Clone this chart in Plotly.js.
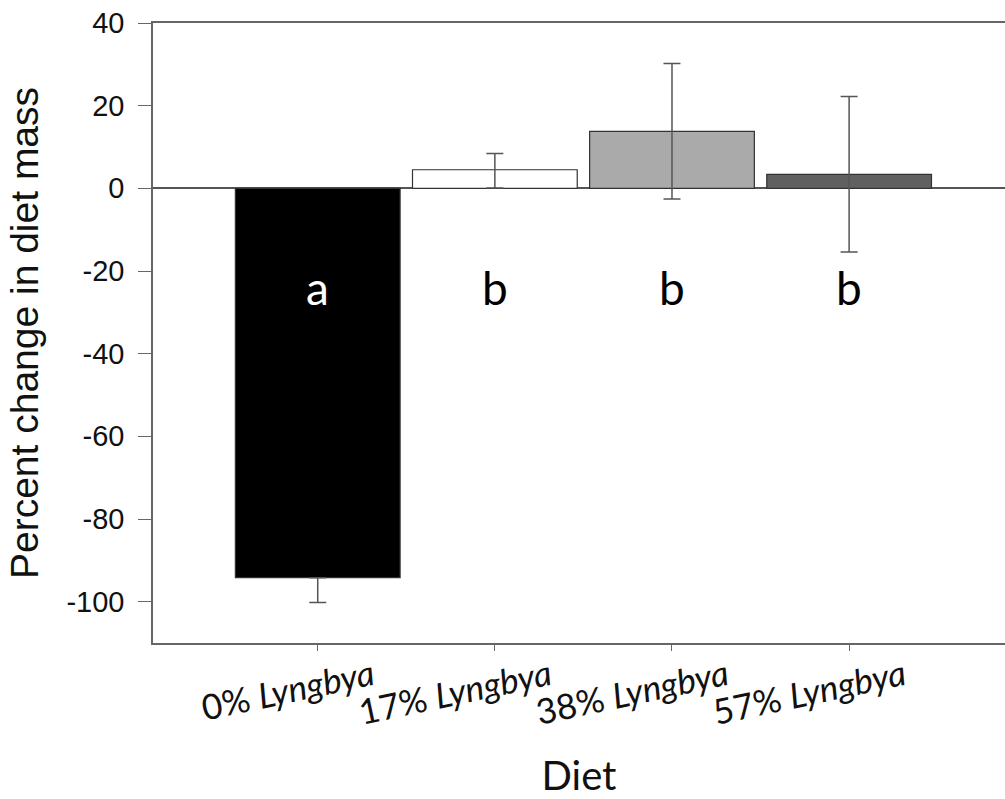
<!DOCTYPE html>
<html>
<head>
<meta charset="utf-8">
<script src="https://cdn.plot.ly/plotly-3.0.1.min.js"></script>
<style>html,body{margin:0;padding:0;background:#fff;}#chart{width:1005px;height:799px;}</style>
</head>
<body>
<div id="chart"></div>
<script>
const categories = ["0% <i>Lyngbya</i>", "17% <i>Lyngbya</i>", "38% <i>Lyngbya</i>", "57% <i>Lyngbya</i>"];
const meanChange = [-94.2, 4.5, 13.8, 3.4];
const errorUpper = [0, 3.9, 16.4, 18.8];
const errorLower = [6.0, 4.4, 16.4, 18.8];
const barColors = ["#000000", "#ffffff", "#aaaaaa", "#606060"];
const groupLetters = ["a", "b", "b", "b"];
const letterColors = ["#ffffff", "#000000", "#000000", "#000000"];
const letterLevel = -24;
const yTicks = [-100, -80, -60, -40, -20, 0, 20, 40];

const trace = {
  type: "bar",
  x: categories,
  y: meanChange,
  width: 0.93,
  marker: {color: barColors, line: {color: "#333333", width: 1.2}},
  error_y: {type: "data", symmetric: false, array: errorUpper, arrayminus: errorLower,
            color: "#555555", thickness: 1.5, width: 8.5},
  hoverinfo: "x+y"
};

const annotations = categories.map((c, i) => ({
  x: c, y: letterLevel, xref: "x", yref: "y", text: groupLetters[i], showarrow: false,
  font: {family: "Lato, 'Open Sans', sans-serif", size: 46, color: letterColors[i]}
}));

const layout = {
  width: 1005, height: 799,
  margin: {l: 153, r: 0, t: 23, b: 156},
  paper_bgcolor: "#ffffff", plot_bgcolor: "#ffffff",
  showlegend: false,
  xaxis: {
    type: "category",
    range: [-0.93, 3.88],
    showline: true, linecolor: "#666666", linewidth: 1.5, mirror: true,
    ticks: "outside", ticklen: 6, tickcolor: "#666666", tickwidth: 1,
    tickangle: -12,
    ticklabelshift: 55,
    ticklabelstandoff: -8,
    tickfont: {family: "Lato, 'Open Sans', sans-serif", size: 35, color: "#111111"},
    showgrid: false, zeroline: false,
    title: {text: "Diet", font: {family: "Lato, 'Open Sans', sans-serif", size: 40, color: "#111111"}, standoff: 32}
  },
  yaxis: {
    range: [-110, 40],
    tickvals: yTicks,
    ticktext: yTicks.map(String),
    showline: true, linecolor: "#666666", linewidth: 1.5,
    ticks: "outside", ticklen: 13, tickcolor: "#666666", tickwidth: 1,
    ticklabelstandoff: 8,
    tickfont: {family: "'Liberation Sans', Arial, sans-serif", size: 29, color: "#111111"},
    showgrid: false,
    zeroline: true, zerolinecolor: "#555555", zerolinewidth: 1.5,
    title: {text: "Percent change in diet mass", font: {family: "'Liberation Sans', Arial, sans-serif", size: 39, color: "#111111"}, standoff: 16}
  },
  annotations: annotations
};

Plotly.newPlot("chart", [trace], layout, {displayModeBar: false, responsive: false});
</script>
</body>
</html>
